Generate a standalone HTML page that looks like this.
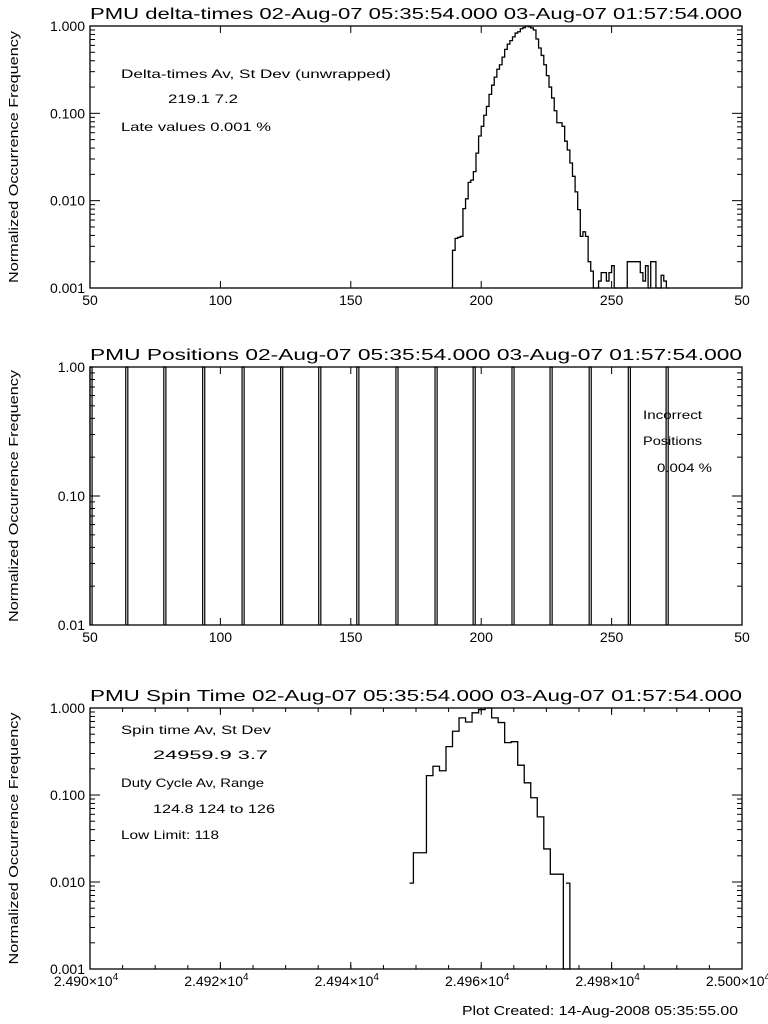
<!DOCTYPE html>
<html><head><meta charset="utf-8"><style>
html,body{margin:0;padding:0;background:#fff;}
svg{display:block;font-family:"Liberation Sans",sans-serif;}
</style></head><body>
<svg id="chart" width="768" height="1024" viewBox="0 0 768 1024" xmlns="http://www.w3.org/2000/svg">
<rect width="768" height="1024" fill="#fff"/>
<g id="g1"></g>
<g id="g2"></g>
<g id="g3"></g>
<text x="462" y="1015" font-size="13" textLength="276" lengthAdjust="spacingAndGlyphs">Plot Created: 14-Aug-2008 05:35:55.00</text>
</svg>
<script>
// Panel 1: delta-times histogram (bins of width 1 starting at dtStart)
const dtStart = 189;
const dtValues = [0.0027,0.0037,0.0038,0.0039,0.0081,0.0105,0.0162,0.0172,0.0215,0.035,0.055,0.071,0.095,0.12,0.165,0.21,0.26,0.32,0.36,0.44,0.54,0.62,0.68,0.75,0.83,0.86,0.93,0.96,1.0,0.98,0.95,0.9,0.71,0.56,0.46,0.36,0.27,0.20,0.15,0.107,0.078,0.078,0.071,0.048,0.038,0.027,0.019,0.0126,0.0079,0.0039,0.0044,0.0039,0.0020,0.00156,0,0,0.0012,0.0015,0.0015,0.0012,0.0015,0.0018,0,0,0,0,0,0.002,0.002,0.002,0.002,0.002,0.0015,0.0012,0.0018,0.001,0.002,0.002,0,0,0.0014,0.0012,0.001];
const dtTickLabels = ["50","100","150","200","250","50"];
const dtTickValues = [50,100,150,200,250,300];
// Panel 2: position spikes
const posPeaks = [50,63.7,78.3,93.2,108.3,123.1,137.7,152.3,167.3,182.3,196.9,211.8,226.4,241.4,256.4,270.9];
const posPeakWidth = 0.8;
const posTickLabels = ["50","100","150","200","250","50"];
const posTickValues = [50,100,150,200,250,300];
// Panel 3: spin time histogram
const spinFirstEdge = 24949.0;
const spinEdge1 = 24949.6;
const spinBinWidth = 1;
const spinLastEnd = 24973.0;
const spinValues = [0.0097,0.0217,0.0217,0.167,0.214,0.19,0.36,0.54,0.77,0.69,0.88,0.96,1.0,0.77,0.68,0.40,0.41,0.22,0.138,0.093,0.056,0.024,0.0123,0.0123,0,0.0097];
const spinTickValues = [24900,24920,24940,24960,24980,25000];
const spinTickLabels = ["2.490","2.492","2.494","2.496","2.498","2.500"];

const NS = "http://www.w3.org/2000/svg";
function mk(parent, tag, attrs, txt){
  const e = document.createElementNS(NS, tag);
  for (const k in attrs) e.setAttribute(k, attrs[k]);
  if (txt !== undefined) e.textContent = txt;
  parent.appendChild(e);
  return e;
}
function makeScales(p){
  const xs = v => p.x0 + (v - p.xmin) / (p.xmax - p.xmin) * (p.x1 - p.x0);
  const ys = v => { if (v <= 0) return p.y1; const l = Math.log10(v); const c = Math.max(p.lmin, Math.min(p.lmax, l)); return p.y1 - (c - p.lmin) / (p.lmax - p.lmin) * (p.y1 - p.y0); };
  return {xs, ys};
}
function drawFrame(g, p, sc, title, yfmt, xTicks, xLabels, minorStep, sup){
  const fr = mk(g, 'rect', {x:p.x0, y:p.y0, width:p.x1-p.x0, height:p.y1-p.y0, fill:'none', stroke:'#000', 'stroke-width':1.3});
  
  
  const t = mk(g, 'text', {x:(p.x0+p.x1)/2, y:p.y0-7, 'font-size':16, 'text-anchor':'middle', textLength:652, lengthAdjust:'spacingAndGlyphs'}, title);
  
  
  const yl = mk(g, 'text', {x:0, y:0, 'font-size':13, 'text-anchor':'middle', transform:`translate(18,${(p.y0+p.y1)/2}) rotate(-90)`, textLength:252, lengthAdjust:'spacingAndGlyphs'}, 'Normalized Occurrence Frequency');
  
  
  // y log ticks
  for (let d = p.lmin; d <= p.lmax; d++){
    const v = Math.pow(10, d);
    const y = sc.ys(v);
    mk(g, 'line', {x1:p.x0, x2:p.x0+10, y1:y, y2:y, stroke:'#000'});
    mk(g, 'line', {x1:p.x1, x2:p.x1-10, y1:y, y2:y, stroke:'#000'});
    const lb = mk(g, 'text', {x:p.x0-5, y:y+5, 'font-size':14, 'text-anchor':'end'}, v.toFixed(yfmt));
    
    
    if (d < p.lmax){
      for (let m = 2; m <= 9; m++){
        const ym = sc.ys(m * v);
        mk(g, 'line', {x1:p.x0, x2:p.x0+5, y1:ym, y2:ym, stroke:'#000'});
        mk(g, 'line', {x1:p.x1, x2:p.x1-5, y1:ym, y2:ym, stroke:'#000'});
      }
    }
  }
  // x ticks
  xTicks.forEach((v, i) => {
    const x = sc.xs(v);
    mk(g, 'line', {x1:x, x2:x, y1:p.y1, y2:p.y1-7, stroke:'#000'});
    mk(g, 'line', {x1:x, x2:x, y1:p.y0, y2:p.y0+7, stroke:'#000'});
    const lb = mk(g, 'text', {x:x, y:p.y1+17, 'font-size':14, 'text-anchor':'middle'});
    
    
    if (sup){
      const a = document.createElementNS(NS, 'tspan'); a.textContent = xLabels[i] + '\u00d710'; lb.appendChild(a);
      const b = document.createElementNS(NS, 'tspan'); b.setAttribute('dy', '-6'); b.setAttribute('font-size', '10'); b.textContent = '4'; lb.appendChild(b);
      lb.setAttribute('x', x - 4);
    } else lb.textContent = xLabels[i];
  });
  if (minorStep){
    for (let v = p.xmin; v <= p.xmax; v += minorStep){
      const x = sc.xs(v);
      mk(g, 'line', {x1:x, x2:x, y1:p.y1, y2:p.y1-4, stroke:'#000'});
      mk(g, 'line', {x1:x, x2:x, y1:p.y0, y2:p.y0+4, stroke:'#000'});
    }
  }
}
function note(g, x, y, s, w, name){
  const a = {x:x, y:y, 'font-size':12};
  if (w) { a.textLength = w; a.lengthAdjust = 'spacingAndGlyphs'; }
  const t = mk(g, 'text', a, s);
  
  
}
const TS = "02-Aug-07 05:35:54.000 03-Aug-07 01:57:54.000";

// Panel 1
(function(){
  const g = document.getElementById('g1');
  const p = {x0:90, x1:742, y0:26, y1:288, xmin:50, xmax:300, lmin:-3, lmax:0};
  const sc = makeScales(p);
  drawFrame(g, p, sc, 'PMU delta-times ' + TS, 3, dtTickValues, dtTickLabels, 0, false);
  let d = `M${sc.xs(dtStart)},${p.y1}`;
  dtValues.forEach((v, i) => {
    const y = sc.ys(v);
    d += ` L${sc.xs(dtStart+i)},${y} L${sc.xs(dtStart+i+1)},${y}`;
  });
  d += ` L${sc.xs(dtStart+dtValues.length)},${p.y1}`;
  const path = mk(g, 'path', {d:d, fill:'none', stroke:'#000', 'stroke-width':1.3});
  
  
  note(g, 121, 78, 'Delta-times Av, St Dev (unwrapped)', 270, 'delta-stats-label');
  note(g, 168, 103, '219.1      7.2', 70, 'delta-stats-values');
  note(g, 121, 131, 'Late values    0.001 %', 150, 'late-values-label');
})();

// Panel 2
(function(){
  const g = document.getElementById('g2');
  const p = {x0:90, x1:742, y0:367, y1:625, xmin:50, xmax:300, lmin:-2, lmax:0};
  const sc = makeScales(p);
  drawFrame(g, p, sc, 'PMU Positions ' + TS, 2, posTickValues, posTickLabels, 0, false);
  posPeaks.forEach(v => {
    const x1 = sc.xs(v), x2 = sc.xs(v + posPeakWidth);
    const s = mk(g, 'path', {d:`M${x1},${p.y1} L${x1},${sc.ys(1)} L${x2},${sc.ys(1)} L${x2},${p.y1}`, fill:'none', stroke:'#000', 'stroke-width':1.2});
    
    
  });
  note(g, 643, 419, 'Incorrect', 59, 'incorrect-label');
  note(g, 643, 445, 'Positions', 59, 'positions-label');
  note(g, 657, 472, '0.004 %', 55, 'incorrect-percent');
})();

// Panel 3
(function(){
  const g = document.getElementById('g3');
  const p = {x0:90, x1:742, y0:708, y1:969, xmin:24900, xmax:25000, lmin:-3, lmax:0};
  const sc = makeScales(p);
  drawFrame(g, p, sc, 'PMU Spin Time ' + TS, 3, spinTickValues, spinTickLabels, 5, true);
  let d = '';
  spinValues.forEach((v, i) => {
    const a = i === 0 ? spinFirstEdge : spinEdge1 + (i-1)*spinBinWidth;
    const b = i === spinValues.length-1 ? spinLastEnd : spinEdge1 + i*spinBinWidth;
    const y = sc.ys(v);
    d += (i === 0 ? `M${sc.xs(a)},${y}` : ` L${sc.xs(a)},${y}`) + ` L${sc.xs(b)},${y}`;
  });
  const path = mk(g, 'path', {d:d, fill:'none', stroke:'#000', 'stroke-width':1.3});
  
  
  note(g, 121, 734, 'Spin time Av, St Dev', 150, 'spin-stats-label');
  note(g, 153, 759, '24959.9        3.7', 115, 'spin-stats-values');
  note(g, 121, 787, 'Duty Cycle Av, Range', 143, 'duty-cycle-label');
  note(g, 153, 813, '124.8  124 to 126', 122, 'duty-cycle-values');
  note(g, 121, 839, 'Low Limit: 118', 98, 'low-limit-label');
})();
</script>
</body></html>
